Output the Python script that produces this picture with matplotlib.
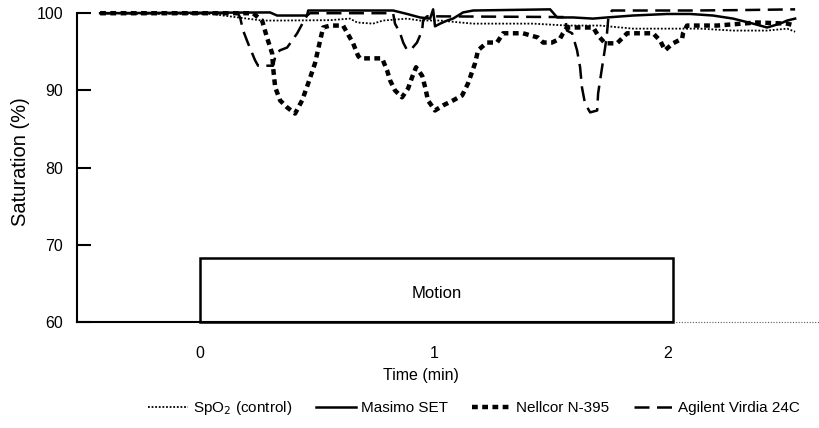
import matplotlib
matplotlib.use("Agg")
import matplotlib.pyplot as plt
from matplotlib import font_manager
from matplotlib.patches import Rectangle
from matplotlib.lines import Line2D

# ---------------- data (time in min, saturation in %) ----------------
spo2_t = [-0.427, 0.056, 0.098, 0.265, 0.342, 0.556, 0.641, 0.671, 0.739, 0.782, 0.885,
          0.940, 1.026, 1.111, 1.167, 1.282, 1.423, 1.568, 1.709, 1.850, 1.996, 2.137,
          2.278, 2.423, 2.509, 2.543]
spo2_v = [100.0, 99.9, 99.7, 99.05, 99.05, 99.1, 99.3, 98.8, 98.65, 99.05, 99.3,
          99.05, 99.05, 98.8, 98.65, 98.65, 98.65, 98.4, 98.4, 98.0, 98.0, 98.0,
          97.75, 97.75, 98.0, 97.6]

masimo_t = [-0.427, 0.299, 0.329, 0.457, 0.462, 0.641, 0.825, 0.885, 0.940, 0.983, 0.996,
            1.004, 1.026, 1.056, 1.081, 1.124, 1.167, 1.496, 1.526, 1.594, 1.679, 1.739,
            1.850, 1.996, 2.094, 2.192, 2.278, 2.363, 2.423, 2.479, 2.509, 2.543]
masimo_v = [100.0, 100.1, 99.7, 99.7, 100.35, 100.35, 100.35, 99.9, 99.45, 99.3, 100.5,
            98.3, 98.65, 99.05, 99.3, 100.1, 100.35, 100.5, 99.45, 99.45, 99.3, 99.45,
            99.7, 99.9, 99.9, 99.7, 99.3, 98.65, 98.15, 98.65, 99.05, 99.3]

nellcor_t = [-0.427, 0.226, 0.265, 0.286, 0.308, 0.312, 0.321, 0.342, 0.372, 0.406, 0.436,
             0.462, 0.491, 0.513, 0.526, 0.556, 0.611, 0.628, 0.654, 0.675, 0.684, 0.778,
             0.799, 0.812, 0.833, 0.863, 0.889, 0.906, 0.923, 0.949, 0.962, 0.974, 1.004,
             1.038, 1.081, 1.120, 1.145, 1.175, 1.188, 1.226, 1.269, 1.295, 1.380, 1.444,
             1.466, 1.504, 1.538, 1.551, 1.568, 1.680, 1.701, 1.731, 1.782, 1.825, 1.936,
             1.966, 1.987, 2.021, 2.060, 2.064, 2.081, 2.209, 2.380, 2.509, 2.543]
nellcor_v = [100.0, 100.0, 99.05, 96.85, 94.8, 93.0, 90.4, 88.7, 87.8, 87.0, 88.7,
             90.9, 93.5, 96.45, 98.15, 98.4, 98.4, 97.5, 96.1, 94.5, 94.15, 94.15,
             92.6, 91.3, 90.0, 89.1, 90.25, 91.7, 93.0, 91.9, 90.4, 88.7, 87.4,
             88.05, 88.7, 89.35, 90.9, 93.5, 95.2, 96.2, 96.2, 97.4, 97.4, 96.85,
             96.2, 96.2, 96.7, 97.4, 98.15, 98.15, 97.1, 96.1, 96.1, 97.4, 97.4,
             96.45, 95.2, 96.1, 96.7, 97.4, 98.4, 98.4, 98.8, 98.65, 98.4]

agilent_t = [-0.427, 0.162, 0.171, 0.184, 0.205, 0.235, 0.248, 0.312, 0.325, 0.342, 0.372,
             0.385, 0.415, 0.440, 0.457, 0.470, 0.825, 0.833, 0.855, 0.868, 0.885, 0.906,
             0.927, 0.949, 0.953, 0.970, 1.560, 1.568, 1.590, 1.611, 1.624, 1.632, 1.645,
             1.667, 1.697, 1.701, 1.718, 1.731, 1.739, 1.745, 1.760, 2.100, 2.300, 2.543]
agilent_v = [100.0, 100.0, 99.45, 97.75, 96.1, 93.9, 93.2, 93.2, 94.8, 95.2, 95.55,
             96.1, 97.4, 98.8, 99.7, 100.0, 100.0, 98.65, 97.4, 96.2, 95.2, 95.45,
             96.2, 97.75, 99.05, 99.6, 99.5, 97.75, 97.4, 95.2, 93.0, 90.4, 88.3,
             87.15, 87.4, 89.6, 93.0, 95.55, 97.4, 99.5, 100.35, 100.35, 100.4, 100.5]

labels = ["SpO$_2$ (control)", "Masimo SET", "Nellcor N-395", "Agilent Virdia 24C"]
y_ticks = [60, 70, 80, 90, 100]
x_ticks = [0, 1, 2]
motion_start, motion_end, motion_top = 0.0, 2.02, 68.3
motion_label = "Motion"

# ---------------- fonts ----------------
names = {f.name for f in font_manager.fontManager.ttflist}
regular = "Liberation Sans" if "Liberation Sans" in names else "DejaVu Sans"
narrow = "Liberation Sans Narrow" if "Liberation Sans Narrow" in names else regular
plt.rcParams["font.family"] = [regular, "DejaVu Sans"]

# ---------------- figure ----------------
fig = plt.figure(figsize=(8.19, 4.28), dpi=100)
ax = fig.add_axes([0.094, 0.2477, 0.906, 0.7503])

styles = {
    "spo2": dict(color="black", lw=1.3, linestyle=(0, (1, 1))),
    "masimo": dict(color="black", lw=1.8, linestyle="-"),
    "nellcor": dict(color="black", lw=3.2, linestyle=(0, (1.3, 1.0))),
    "agilent": dict(color="black", lw=1.8, linestyle=(0, (6, 3))),
}

ax.plot(spo2_t, spo2_v, **styles["spo2"])
ax.plot(masimo_t, masimo_v, **styles["masimo"])
ax.plot(agilent_t, agilent_v, **styles["agilent"])
ax.plot(nellcor_t, nellcor_v, **styles["nellcor"])

ax.add_patch(Rectangle((motion_start, 60), motion_end - motion_start, motion_top - 60,
                       facecolor="none", edgecolor="black", lw=1.8, clip_on=False))
ax.text((motion_start + motion_end) / 2, 63.75, motion_label, ha="center", va="center",
        fontsize=12, family=[narrow, "DejaVu Sans"])

ax.set_xlim(-0.526, 2.645)
ax.set_ylim(60, 101.6)

for s in ["top", "right"]:
    ax.spines[s].set_visible(False)
ax.spines["left"].set_bounds(60, 100)
ax.spines["left"].set_linewidth(1.5)
ax.spines["bottom"].set_bounds(-0.526, motion_end)
ax.spines["bottom"].set_linewidth(1.5)
ax.plot([motion_end, 2.645], [60, 60], color="0.35", lw=0.8, linestyle=(0, (1, 1.5)),
        clip_on=False)

ax.set_yticks(y_ticks)
ax.set_yticklabels([str(v) for v in y_ticks])
ax.tick_params(axis="y", direction="in", length=10, width=1.5, pad=10, labelsize=11.5)
ax.set_xticks(x_ticks)
ax.set_xticklabels([str(v) for v in x_ticks])
ax.tick_params(axis="x", length=0, pad=17, labelsize=11.5)
for lab in ax.get_xticklabels():
    lab.set_family([narrow, "DejaVu Sans"])

ax.set_ylabel("Saturation (%)", fontsize=14.5, labelpad=5)
ax.set_xlabel("Time (min)", fontsize=11.5, family=[narrow, "DejaVu Sans"])
ax.xaxis.set_label_coords(0.4636, -0.143)

handles = [Line2D([], [], **styles[k]) for k in ["spo2", "masimo", "nellcor", "agilent"]]
leg = fig.legend(handles, labels, loc="center", bbox_to_anchor=(0.579, 0.047), ncol=4,
                 frameon=False, handlelength=2.6, handletextpad=0.3, columnspacing=1.6,
                 prop={"family": [narrow, "DejaVu Sans"], "size": 11})

fig.savefig("out.png", dpi=100)
